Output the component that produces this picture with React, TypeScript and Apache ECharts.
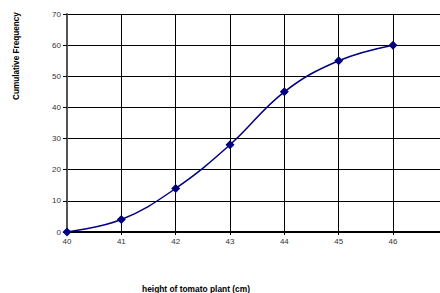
import React, { useEffect, useRef } from "react";
import * as echarts from "echarts";

const heights = [40, 41, 42, 43, 44, 45, 46];
const cumulativeFrequency = [0, 4, 14, 28, 45, 55, 60];
const yTitle = "Cumulative Frequency";
const xTitle = "height of tomato plant (cm)";

export default function App() {
  const ref = useRef<HTMLDivElement>(null);
  useEffect(() => {
    if (!ref.current) return;
    const chart = echarts.init(ref.current, null, { renderer: "svg" });
    const font = "'Liberation Sans', Arial, sans-serif";
    chart.setOption({
      animation: false,
      backgroundColor: "#ffffff",
      grid: { left: 67, top: 14, right: 0, height: 218, containLabel: false },
      xAxis: {
        type: "value",
        min: 40,
        max: 46.865,
        interval: 1,
        axisLine: { show: true, lineStyle: { color: "#000", width: 2 } },
        axisTick: { show: true, length: 3, lineStyle: { color: "#000" } },
        axisLabel: { color: "#333", fontSize: 8, fontFamily: font, margin: 5, showMaxLabel: false },
        splitLine: { show: true, lineStyle: { color: "#000", width: 1 } },
      },
      yAxis: {
        type: "value",
        min: 0,
        max: 70,
        interval: 10,
        axisLine: { show: true, lineStyle: { color: "#555", width: 2 } },
        axisTick: { show: true, length: 4, lineStyle: { color: "#000" } },
        axisLabel: { color: "#333", fontSize: 8, fontFamily: font, margin: 6 },
        splitLine: { show: true, lineStyle: { color: "#000", width: 1 } },
      },
      graphic: [
        {
          type: "text",
          x: 16,
          y: 56,
          rotation: Math.PI / 2,
          style: {
            text: yTitle,
            fontSize: 8.2,
            fontWeight: "bold",
            fontFamily: font,
            fill: "#000",
            align: "center",
            verticalAlign: "middle",
          },
        },
        {
          type: "text",
          x: 196,
          y: 289,
          style: {
            text: xTitle,
            fontSize: 8.4,
            fontWeight: "bold",
            fontFamily: font,
            fill: "#000",
            align: "center",
            verticalAlign: "middle",
          },
        },
      ],
      series: [
        {
          type: "line",
          data: heights.map((h, i) => [h, cumulativeFrequency[i]]),
          smooth: 0.4,
          symbol: "diamond",
          symbolSize: 9,
          clip: false,
          lineStyle: { color: "#000080", width: 1.5 },
          itemStyle: { color: "#000080" },
        },
      ],
    });
    return () => chart.dispose();
  }, []);
  return <div ref={ref} style={{ width: 440, height: 293, position: "absolute", left: 0, top: 0 }} />;
}
